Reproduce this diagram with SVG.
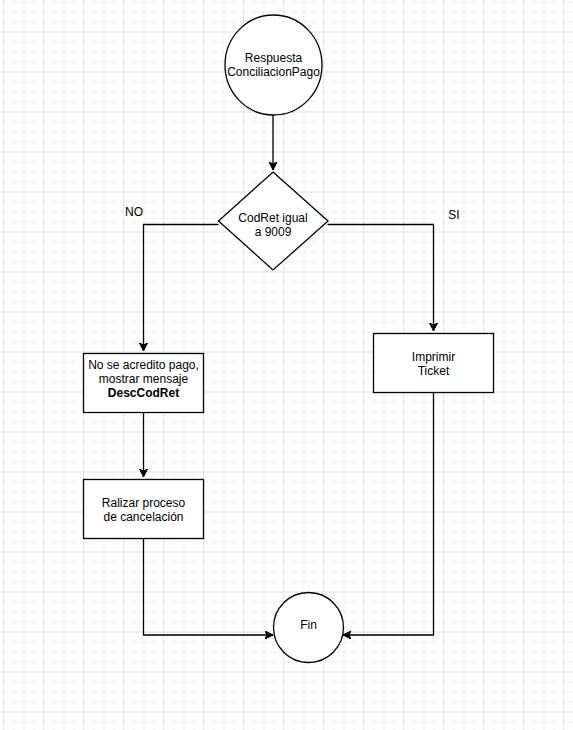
<svg xmlns="http://www.w3.org/2000/svg" width="573" height="730" viewBox="0 0 573 730">
<style>
.shape{fill:#fff;stroke:#000;stroke-width:1.3}
.edge{fill:none;stroke:#000;stroke-width:1.3}
text{font-family:"Liberation Sans",Arial,sans-serif;font-size:12px;fill:#000;text-anchor:middle}
.b{font-weight:bold}
</style>
<defs>
<pattern id="minor" width="10" height="10" patternUnits="userSpaceOnUse" x="3.5" y="1.5">
<path d="M0 0.5H10M0.5 0V10" fill="none" stroke="#f3f3f3" stroke-width="1"/>
</pattern>
<pattern id="major" width="40" height="40" patternUnits="userSpaceOnUse" x="3" y="31.5">
<path d="M0 0.5H40M0.5 0V40" fill="none" stroke="#e6e6e6" stroke-width="1"/>
</pattern>
<marker id="arr" markerWidth="10" markerHeight="10" refX="8" refY="4" orient="auto" markerUnits="userSpaceOnUse">
<path d="M0 0L8 4L0 8L2 4Z" fill="#000" stroke="#000" stroke-width="1"/>
</marker>
</defs>
<rect width="573" height="730" fill="#fff"/>
<rect width="573" height="730" fill="url(#minor)"/>
<rect width="573" height="730" fill="url(#major)"/>
<g id="connectors">
<path class="edge" d="M273 115V170" marker-end="url(#arr)"/>
<path class="edge" d="M218.5 224.5H143.5V351" marker-end="url(#arr)"/>
<path class="edge" d="M327.5 224.5H433.5V331" marker-end="url(#arr)"/>
<path class="edge" d="M143.5 413V477" marker-end="url(#arr)"/>
<path class="edge" d="M143.5 539V635H273" marker-end="url(#arr)"/>
<path class="edge" d="M433.5 393V635H343" marker-end="url(#arr)"/>
<text x="134" y="216">NO</text>
<text x="454" y="219">SI</text>
</g>
<g id="start">
<ellipse class="shape" cx="273.5" cy="65" rx="48.5" ry="50"/>
<text x="273.5" y="62">Respuesta</text>
<text x="273.5" y="76">ConciliacionPago</text>
</g>
<g id="decision">
<path class="shape" d="M273 172L328 221L273 270L218.5 221Z"/>
<text x="273" y="222">CodRet igual</text>
<text x="273" y="236">a 9009</text>
</g>
<g id="no-acredito">
<rect class="shape" x="83.5" y="353.5" width="120" height="59"/>
<text x="143.5" y="369">No se acredito pago,</text>
<text x="143.5" y="383">mostrar mensaje</text>
<text class="b" x="143.5" y="397">DescCodRet</text>
</g>
<g id="cancelacion">
<rect class="shape" x="83.5" y="479.5" width="120" height="59"/>
<text x="143.5" y="507">Ralizar proceso</text>
<text x="143.5" y="521">de cancelación</text>
</g>
<g id="imprimir">
<rect class="shape" x="373.5" y="333.5" width="120" height="59"/>
<text x="433.5" y="361">Imprimir</text>
<text x="433.5" y="375">Ticket</text>
</g>
<g id="fin">
<circle class="shape" cx="308.5" cy="627.5" r="35"/>
<text x="308.5" y="629">Fin</text>
</g>
</svg>
